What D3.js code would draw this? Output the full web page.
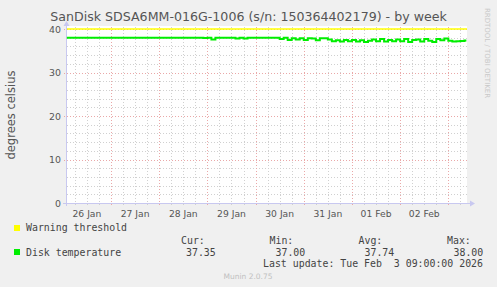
<!DOCTYPE html>
<html><head><meta charset="utf-8">
<script src="https://cdn.jsdelivr.net/npm/d3@7"></script>
<style>
html,body{margin:0;padding:0;background:#f0f0f0;}
svg{display:block;}
</style></head>
<body>
<svg id="chart" width="497" height="287"></svg>
<script>
// ---- data ----
const titleText = "SanDisk SDSA6MM-016G-1006 (s/n: 150364402179) - by week";
const yLabelText = "degrees celsius";
const yTicks = [0, 10, 20, 30, 40];
const dayLabels = ["26 Jan","27 Jan","28 Jan","29 Jan","30 Jan","31 Jan","01 Feb","02 Feb"];
const warningThreshold = 40;
const seriesStart = Date.UTC(2026, 0, 26, 2, 0);   // first sample
const stepHours = 2;
// Disk temperature, one value every 2 hours
const tempJan26 = [38,38,38,38,38,38,38,38,38,38,38];
const tempJan27 = [38,38,38,38,38,38,38,38,38,38,38,38];
const tempJan28 = [38,38,38,38,38,38,38,38,38,38,38,37.95];
const tempJan29 = [38,37.6,38,38,38,38,38,37.8,38,37.8,38,38];
const tempJan30 = [38,38,38,38,38,38,37.7,38,37.5,37.9,37.6,37.9];
const tempJan31 = [37.5,37.9,37.8,37.4,37.85,37.9,37.6,37.2,37.4,37.1,37.45,37.2];
const tempFeb01 = [37.5,37.1,37.4,37.0,37.3,37.6,37.2,37.7,37.1,37.5,37.2,37.6];
const tempFeb02 = [37.2,37.7,37.0,37.5,37.6,37.1,37.7,37.3,37.0,37.7,37.4,37.8];
const tempFeb03 = [37.3,37.1,37.2,37.25,37.35];
const legendCur = "37.35", legendMin = "37.00", legendAvg = "37.74", legendMax = "38.00";
const lastUpdate = "Last update: Tue Feb  3 09:00:00 2026";

const temps = [].concat(tempJan26,tempJan27,tempJan28,tempJan29,tempJan30,tempJan31,tempFeb01,tempFeb02,tempFeb03);

// ---- layout ----
const svg = d3.select("#chart");
const W = 497, H = 287;
const pLeft = 66.5, pRight = 467, pTop = 29, pBottom = 203;
const tStart = Date.UTC(2026,0,26,1,50), tEnd = Date.UTC(2026,1,3,9,18);
const x = d3.scaleUtc().domain([tStart, tEnd]).range([pLeft, pRight]);
const y = d3.scaleLinear().domain([0, 40]).range([pBottom, pTop]);
const HOUR = 3600e3;

svg.append("rect").attr("width", W).attr("height", H).attr("fill", "#f0f0f0");
svg.append("rect").attr("x", 67).attr("y", 26).attr("width", pRight - 67).attr("height", pBottom - 26).attr("fill", "#ffffff");

const grid = svg.append("g").attr("shape-rendering", "crispEdges");
// minor horizontal
for (let v = 0; v <= 40; v += 2) {
  if (v % 10 === 0) continue;
  const yy = Math.round(y(v)) + 0.5;
  grid.append("line").attr("x1", 67).attr("x2", pRight).attr("y1", yy).attr("y2", yy)
    .attr("stroke", "#d0d0d0").attr("stroke-dasharray", "1,2");
}
// minor vertical every 6h
const sixH = d3.utcHour.every(6).range(new Date(tStart), new Date(tEnd));
sixH.forEach(t => {
  if (t.getUTCHours() === 0) return;
  const xx = Math.round(x(t)) + 0.5;
  grid.append("line").attr("x1", xx).attr("x2", xx).attr("y1", pTop - 2).attr("y2", pBottom + 2)
    .attr("stroke", "#d0d0d0").attr("stroke-dasharray", "1,2");
});
// major horizontal
yTicks.forEach(v => {
  if (v === 0) return;
  const yy = Math.round(y(v)) + 0.5;
  grid.append("line").attr("x1", 64).attr("x2", pRight).attr("y1", yy).attr("y2", yy)
    .attr("stroke", "#eaa8a8").attr("stroke-dasharray", "1,2");
});
// major vertical (midnights)
const days = d3.utcDay.range(new Date(tStart), new Date(tEnd));
days.forEach(t => {
  const xx = Math.round(x(t)) + 0.5;
  grid.append("line").attr("x1", xx).attr("x2", xx).attr("y1", pTop - 2).attr("y2", pBottom + 3)
    .attr("stroke", "#eaa8a8").attr("stroke-dasharray", "1,2");
});

// axes lines with arrows
const axisCol = "#c8c8f0";
grid.append("line").attr("x1", 63).attr("x2", 470).attr("y1", pBottom + 0.5).attr("y2", pBottom + 0.5).attr("stroke", axisCol);
grid.append("line").attr("x1", 66.5).attr("x2", 66.5).attr("y1", pBottom + 3).attr("y2", pTop - 4).attr("stroke", axisCol);
svg.append("path").attr("d", `M470,${pBottom - 2.5} L475,${pBottom + 0.5} L470,${pBottom + 3.5} Z`).attr("fill", axisCol);
svg.append("path").attr("d", `M63.5,${pTop - 3} L66.5,${pTop - 8} L69.5,${pTop - 3} Z`).attr("fill", axisCol);

// y tick labels
const axisFont = "DejaVu Sans";
yTicks.forEach(v => {
  svg.append("text").attr("x", 61).attr("y", y(v) + 3.5).attr("text-anchor", "end")
    .attr("font-family", axisFont).attr("font-size", 9.4).attr("fill", "#555").text(v);
});
// x day labels (at noon)
dayLabels.forEach((lab, i) => {
  const t = Date.UTC(2026, 0, 26 + i, 12);
  svg.append("text").attr("x", x(t)).attr("y", 216.5).attr("text-anchor", "middle")
    .attr("font-family", axisFont).attr("font-size", 9.2).attr("fill", "#555").text(lab);
});

// warning line
svg.append("line").attr("x1", 67).attr("x2", pRight).attr("y1", y(warningThreshold)).attr("y2", y(warningThreshold))
  .attr("stroke", "#ffff00").attr("stroke-width", 1.5);

// temperature line
const pts = temps.map((v, i) => ({t: seriesStart + i * stepHours * HOUR, v}));
pts.push({t: tEnd - 0.3 * HOUR, v: temps[temps.length - 1]});
const line = d3.line().x(d => x(d.t)).y(d => y(d.v)).curve(d3.curveStepAfter);
svg.append("path").datum(pts).attr("d", line).attr("fill", "none")
  .attr("stroke", "#00ee00").attr("stroke-width", 2);

// title
const title = svg.append("text").attr("x", 248.5).attr("y", 21).attr("text-anchor", "middle")
  .attr("font-family", "DejaVu Sans").attr("font-size", 13).attr("fill", "#555").text(titleText);
const tw = title.node().getComputedTextLength();
title.attr("font-size", 13 * 397 / tw);

// y label
svg.append("text").attr("transform", "translate(15,115) rotate(-90)").attr("text-anchor", "middle")
  .attr("font-family", "DejaVu Sans").attr("font-size", 11.5).attr("fill", "#555").text(yLabelText);

// side credit
svg.append("text").attr("transform", "translate(485,53) rotate(90)").attr("text-anchor", "middle")
  .attr("font-family", "DejaVu Sans").attr("font-size", 7).attr("fill", "#c8c8c8").text("RRDTOOL / TOBI OETIKER");

// legend
const mono = "DejaVu Sans Mono";
const lfs = 9.9;
const lcol = "#444";
svg.append("rect").attr("x", 14).attr("y", 225).attr("width", 6).attr("height", 6).attr("fill", "#ffff00");
svg.append("text").attr("x", 26).attr("y", 231).attr("font-family", mono).attr("font-size", lfs).attr("fill", lcol).text("Warning threshold");
[["Cur:", 181], ["Min:", 269.5], ["Avg:", 358.5], ["Max:", 447]].forEach(([s, xx]) => {
  svg.append("text").attr("x", xx).attr("y", 243.5).attr("font-family", mono).attr("font-size", lfs).attr("fill", lcol).text(s);
});
svg.append("rect").attr("x", 14).attr("y", 249).attr("width", 6).attr("height", 6).attr("fill", "#00ee00");
svg.append("text").attr("x", 26).attr("y", 255.5).attr("font-family", mono).attr("font-size", lfs).attr("fill", lcol).text("Disk temperature");
[[legendCur, 186], [legendMin, 275.5], [legendAvg, 364.5], [legendMax, 453.5]].forEach(([s, xx]) => {
  svg.append("text").attr("x", xx).attr("y", 255.5).attr("font-family", mono).attr("font-size", lfs).attr("fill", lcol).text(s);
});
svg.append("text").attr("x", 483).attr("y", 267).attr("text-anchor", "end").attr("font-family", mono).attr("font-size", lfs).attr("fill", lcol).attr("xml:space", "preserve").style("white-space", "pre").text(lastUpdate);

svg.append("text").attr("x", 248).attr("y", 278.5).attr("text-anchor", "middle")
  .attr("font-family", "DejaVu Sans").attr("font-size", 7.5).attr("fill", "#c0c0c0").text("Munin 2.0.75");
</script>
</body></html>
